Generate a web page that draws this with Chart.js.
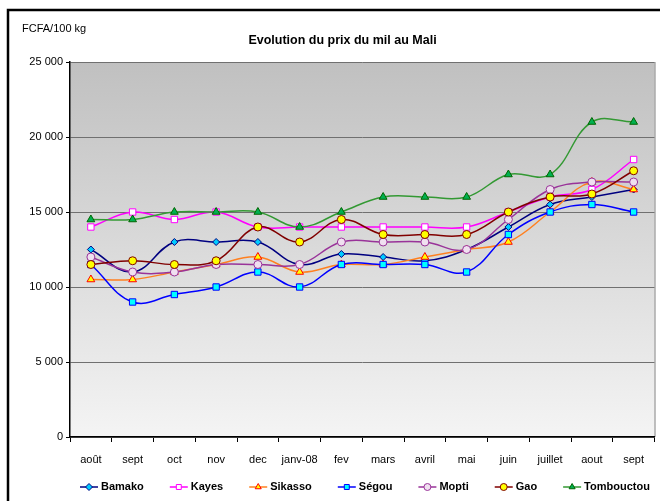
<!DOCTYPE html>
<html>
<head>
<meta charset="utf-8">
<script src="https://cdn.jsdelivr.net/npm/chart.js@4/dist/chart.umd.min.js"></script>
<style>
  html, body { margin: 0; padding: 0; background: #fff; }
  canvas { display: block; }
</style>
</head>
<body>
<canvas id="myChart" width="660" height="501"></canvas>
<script>
// months, Aug 2007 -> Sept 2008
const months = ['août', 'sept', 'oct', 'nov', 'dec', 'janv-08', 'fev', 'mars', 'avril', 'mai', 'juin', 'juillet', 'aout', 'sept'];

const bamako     = [12500, 11000, 13000, 13000, 13000, 11500, 12200, 12000, 11750, 12500, 14000, 15500, 16000, 16500];
const kayes      = [14000, 15000, 14500, 15000, 14000, 14000, 14000, 14000, 14000, 14000, 15000, 16000, 16500, 18500];
const sikasso    = [10500, 10500, 11000, 11500, 12000, 11000, 11500, 11500, 12000, 12500, 13000, 15000, 17000, 16500];
const segou      = [11500, 9000, 9500, 10000, 11000, 10000, 11500, 11500, 11500, 11000, 13500, 15000, 15500, 15000];
const mopti      = [12000, 11000, 11000, 11500, 11500, 11500, 13000, 13000, 13000, 12500, 14500, 16500, 17000, 17000];
const gao        = [11500, 11750, 11500, 11750, 14000, 13000, 14500, 13500, 13500, 13500, 15000, 16000, 16200, 17750];
const tombouctou = [14500, 14500, 15000, 15000, 15000, 14000, 15000, 16000, 16000, 16000, 17500, 17500, 21000, 21000];

const yTicks = [0, 5000, 10000, 15000, 20000, 25000];

const font = '"Liberation Sans", Arial, sans-serif';

function serie(label, data, line, style, fill, edge, radius) {
    return {
        label: label,
        data: data,
        borderColor: line,
        backgroundColor: line,
        borderWidth: 1.5,
        tension: 0.4,
        pointStyle: style,
        pointRadius: radius,
        pointBackgroundColor: fill,
        pointBorderColor: edge,
        pointBorderWidth: 1
    };
}

const datasets = [
    serie('Bamako', bamako, '#000080', 'rectRot', '#00ccff', '#000080', 3.5),
    serie('Kayes', kayes, '#ff00ff', 'rect', '#ffffff', '#ff00ff', 4.5),
    serie('Sikasso', sikasso, '#ff8020', 'triangle', '#ffff00', '#ff0000', 4.5),
    serie('Ségou', segou, '#0000ff', 'rect', '#00ffff', '#0000ff', 4.5),
    serie('Mopti', mopti, '#993399', 'circle', '#f0e0f0', '#993399', 4),
    serie('Gao', gao, '#800000', 'circle', '#ffff00', '#800000', 4),
    serie('Tombouctou', tombouctou, '#339933', 'triangle', '#00b050', '#006600', 4.5)
];
// later series on top, like the spreadsheet
datasets.forEach((ds, i) => ds.order = datasets.length - i);

const backdrop = {
    id: 'backdrop',
    beforeDraw(chart) {
        const ctx = chart.ctx;
        const a = chart.chartArea;
        ctx.save();
        const grad = ctx.createLinearGradient(0, a.top, 0, a.bottom);
        grad.addColorStop(0, '#c0c0c0');
        grad.addColorStop(1, '#f4f4f4');
        ctx.fillStyle = grad;
        ctx.fillRect(a.left, a.top, a.right - a.left, a.bottom - a.top);
        ctx.strokeStyle = '#808080';
        ctx.lineWidth = 1;
        ctx.beginPath();
        ctx.moveTo(a.right + 0.5, a.top);
        ctx.lineTo(a.right + 0.5, a.bottom);
        ctx.stroke();
        // outer frame
        ctx.strokeStyle = '#000';
        ctx.lineWidth = 2.5;
        ctx.beginPath();
        ctx.moveTo(8, 501);
        ctx.lineTo(8, 10);
        ctx.lineTo(660, 10);
        ctx.stroke();
        ctx.fillStyle = '#000';
        ctx.font = '11px ' + font;
        ctx.textBaseline = 'middle';
        ctx.textAlign = 'left';
        ctx.fillText('FCFA/100 kg', 22, 29);
        ctx.restore();
    }
};

// legend in one row: short line with the marker, then the bold name
const lineLegend = {
    id: 'lineLegend',
    afterDraw(chart) {
        const ctx = chart.ctx;
        const y = 487;
        let x = 80;
        ctx.save();
        ctx.font = 'bold 11px ' + font;
        ctx.textBaseline = 'middle';
        ctx.textAlign = 'left';
        chart.data.datasets.forEach(ds => {
            ctx.strokeStyle = ds.borderColor;
            ctx.lineWidth = 1.5;
            ctx.beginPath();
            ctx.moveTo(x, y);
            ctx.lineTo(x + 18, y);
            ctx.stroke();
            ctx.fillStyle = ds.pointBackgroundColor;
            ctx.strokeStyle = ds.pointBorderColor;
            ctx.lineWidth = 1;
            Chart.helpers.drawPoint(ctx, { pointStyle: ds.pointStyle, radius: 3.5, rotation: 0, borderWidth: 1 }, x + 9, y);
            ctx.fillStyle = '#000';
            ctx.fillText(ds.label, x + 21, y);
            x += 21 + ctx.measureText(ds.label).width + 26;
        });
        ctx.restore();
    }
};

const ctx = document.getElementById('myChart');

new Chart(ctx, {
    type: 'line',
    data: {
        labels: months,
        datasets: datasets
    },
    plugins: [backdrop, lineLegend],
    options: {
        responsive: false,
        animation: false,
        layout: {
            padding: { top: 30, left: 26, right: 1, bottom: 34 }
        },
        scales: {
            x: {
                offset: true,
                grid: {
                    offset: true,
                    drawOnChartArea: false,
                    tickLength: 5,
                    tickColor: '#000',
                    tickWidth: 1
                },
                border: { color: '#000', width: 1.5 },
                ticks: {
                    color: '#000',
                    font: { family: font, size: 11 },
                    padding: 11,
                    maxRotation: 0,
                    autoSkip: false
                },
                afterFit: function (scale) { scale.height = 30; }
            },
            y: {
                min: 0,
                max: 25000,
                afterBuildTicks: function (scale) {
                    scale.ticks = yTicks.map(v => ({ value: v }));
                },
                grid: {
                    color: '#707070',
                    lineWidth: 1,
                    tickLength: 4,
                    tickColor: '#000'
                },
                border: { color: '#000', width: 1.5 },
                ticks: {
                    color: '#000',
                    font: { family: font, size: 11 },
                    padding: 3,
                    callback: function (v) {
                        return v === 0 ? '0' : (v / 1000) + ' 000';
                    }
                },
                afterFit: function (scale) { scale.width = 44; }
            }
        },
        plugins: {
            title: {
                display: true,
                text: 'Evolution du prix du mil au Mali',
                color: '#000',
                font: { family: font, size: 12.5, weight: 'bold' },
                padding: { top: 3, bottom: 14 }
            },
            legend: { display: false },
            tooltip: { enabled: false }
        }
    }
});
</script>
</body>
</html>
